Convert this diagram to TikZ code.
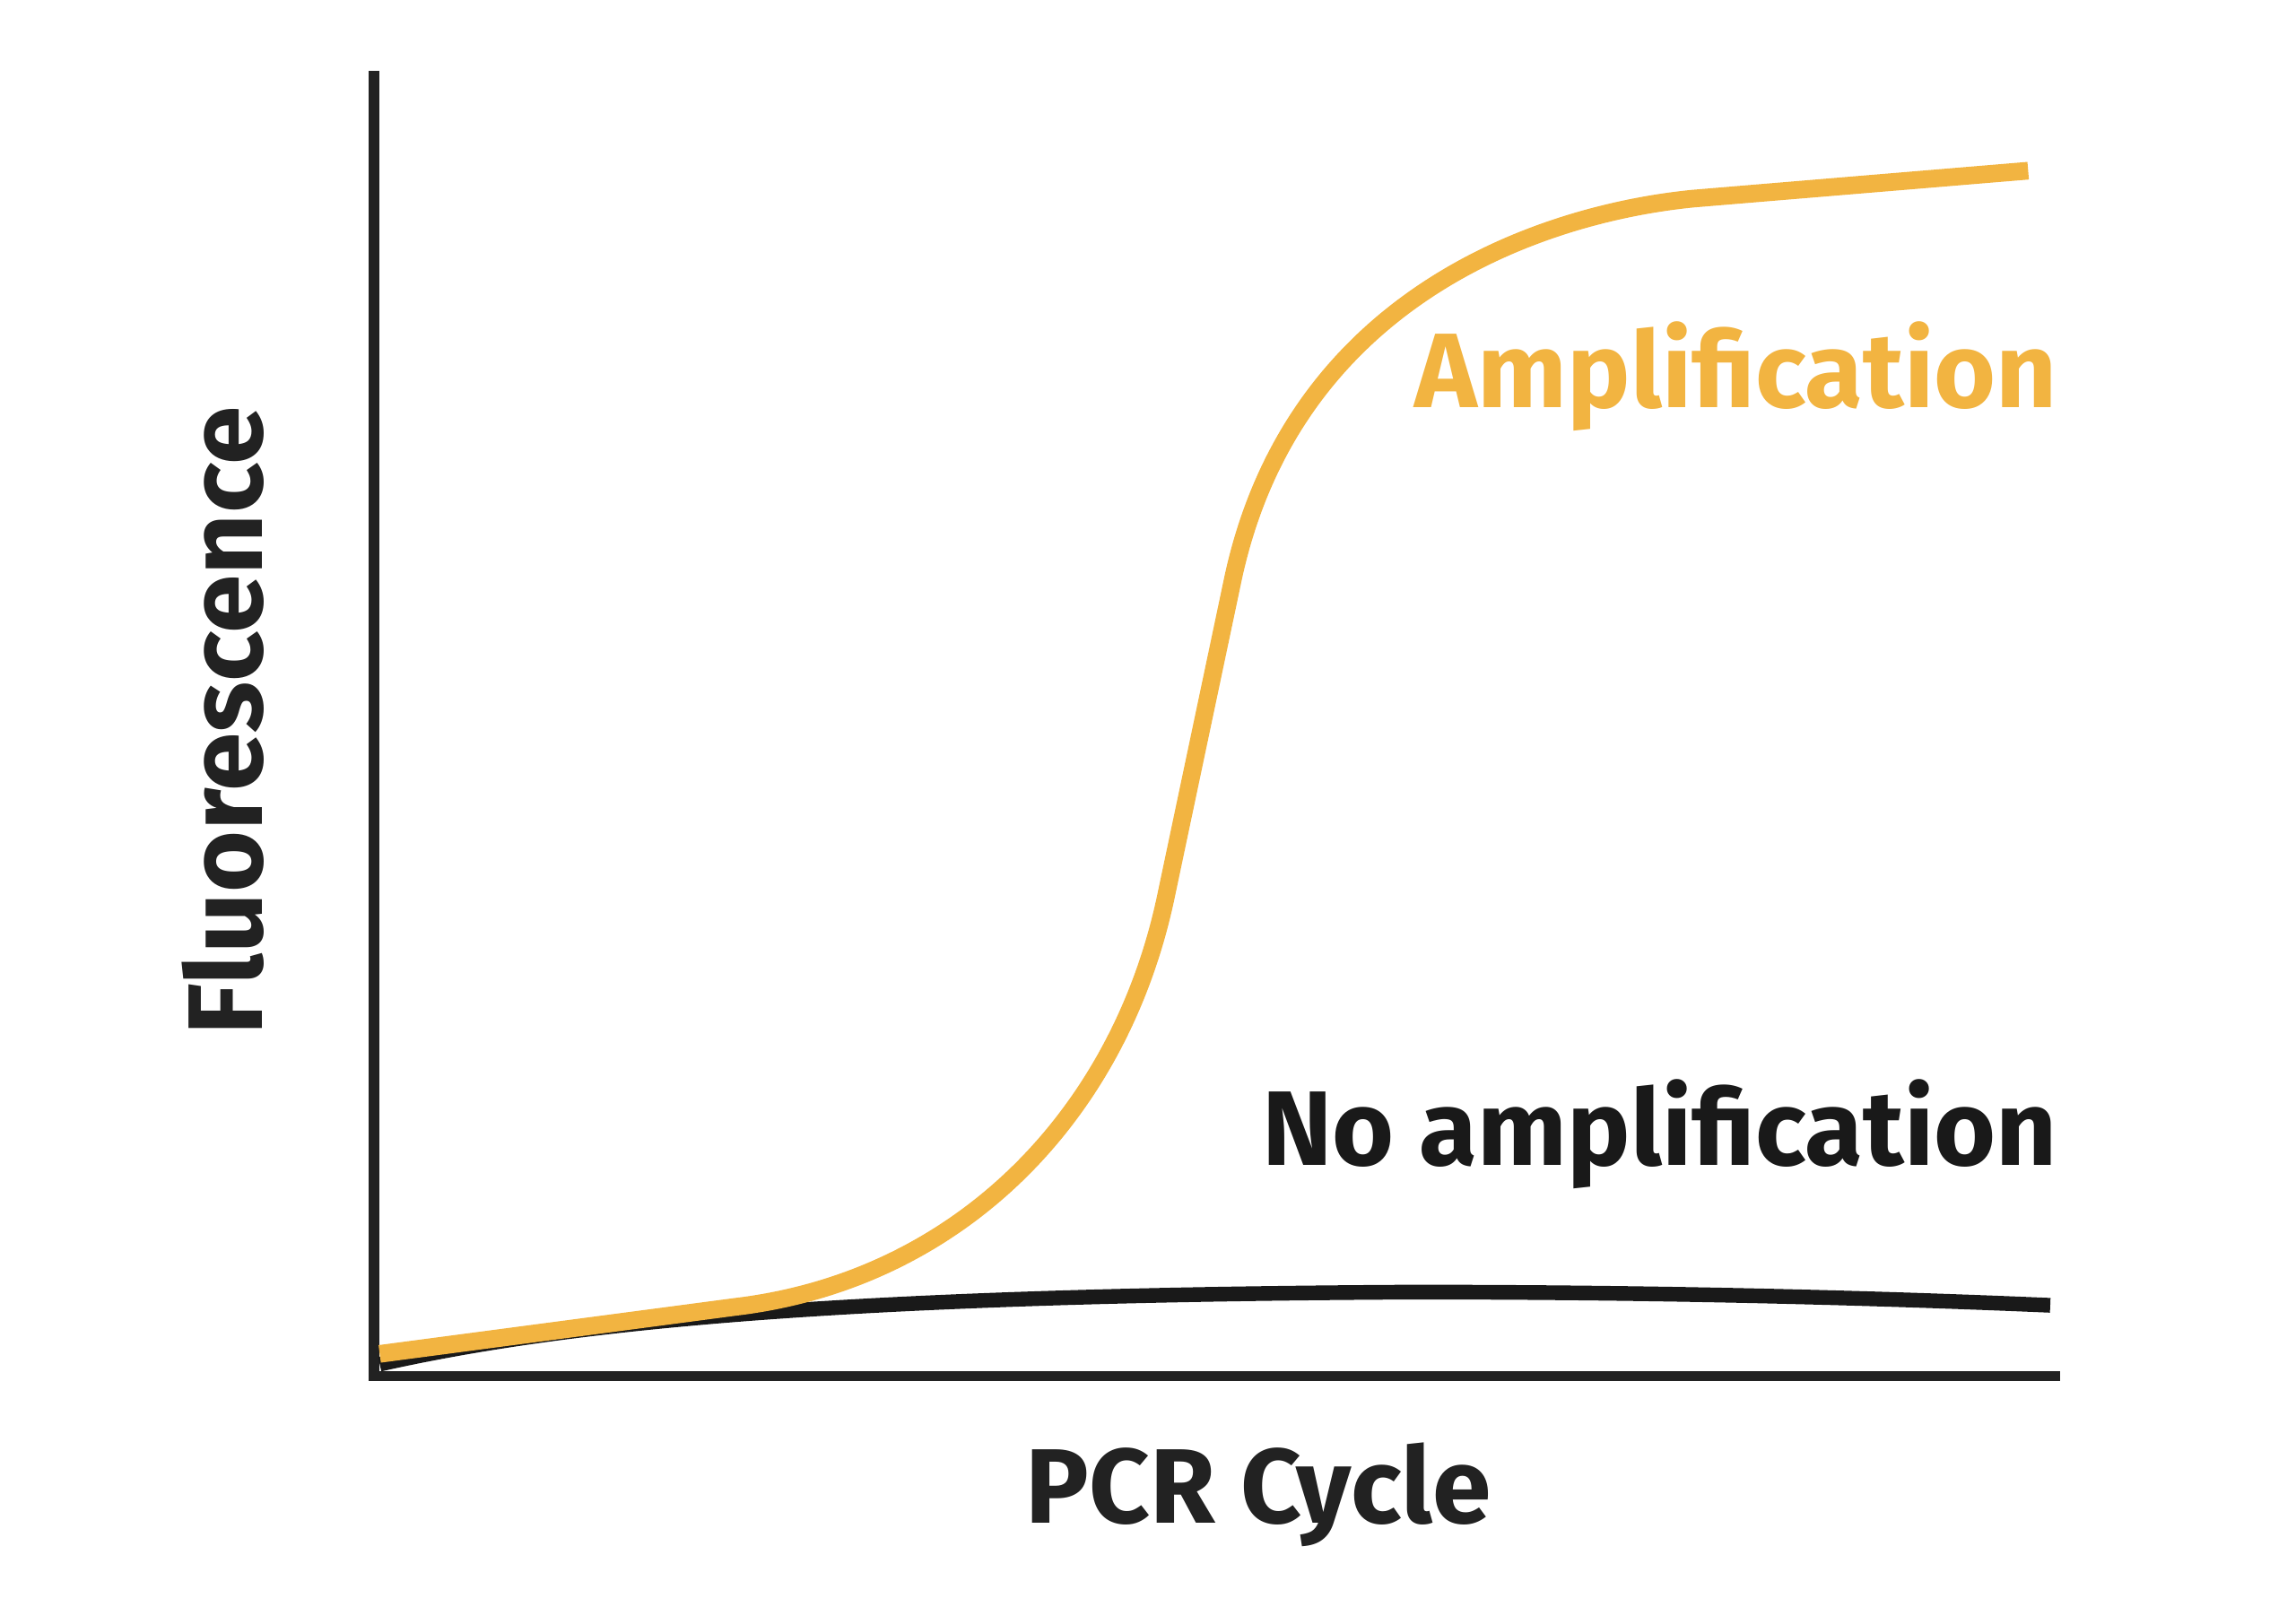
\documentclass[tikz,border=0pt]{standalone}
\usepackage{fontspec}
\setmainfont{Fira Sans}
\definecolor{orng}{HTML}{F2B441}
\definecolor{dark}{HTML}{222222}
\begin{document}
\begin{tikzpicture}[x=0.5pt,y=-0.5pt,
  lbl/.style={font=\fontsize{36}{40}\selectfont\bfseries,inner sep=0pt}]
\useasboundingbox (0,0) rectangle (1560,1092);
\fill[white] (0,0) rectangle (1560,1092);
\coordinate (top) at (254,48);
\coordinate (o) at (254,935);
\coordinate (r) at (1400,935);
\draw[dark,line width=3.5pt] (top) -- (o) -- (r);
\draw[black!90,line width=5pt] (258,927) .. controls (400,895) and (600,880) .. (960,878) .. controls (1150,878) and (1300,883) .. (1393,887);
\draw[orng,line width=6pt] (258,920) -- (500,888) .. controls (650,870) and (760,760) .. (792,610) -- (838,392) .. controls (880,200) and (1050,145) .. (1150,135) -- (1378,116);
\node[lbl,text=orng,anchor=base east] (amp) at (1398,277) {Amplification};
\node[lbl,text=black!90,anchor=base east] (noamp) at (1398,792) {No amplification};
\node[lbl,text=dark,anchor=base] (xl) at (855,1035) {PCR Cycle};
\node[lbl,text=dark,anchor=base,rotate=90] (yl) at (178,490) {Fluorescence};
\end{tikzpicture}
\end{document}
